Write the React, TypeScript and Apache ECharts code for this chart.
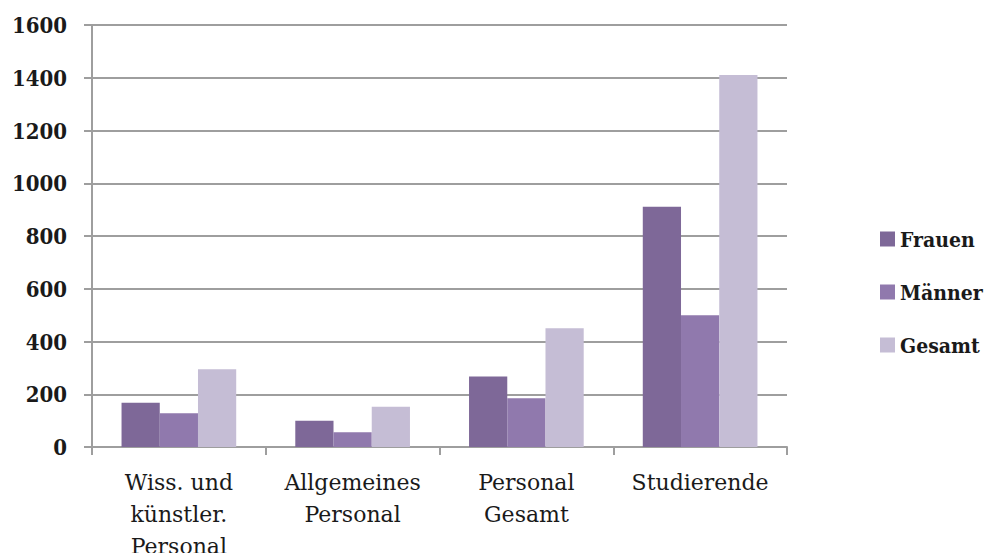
import React, { useEffect, useRef } from "react";
import * as echarts from "echarts";

const categories = ["Wiss. und\nkünstler.\nPersonal", "Allgemeines\nPersonal", "Personal\nGesamt", "Studierende"];
const frauen = [168, 100, 267, 911];
const maenner = [128, 56, 185, 500];
const gesamt = [295, 153, 450, 1410];
const seriesNames = ["Frauen", "Männer", "Gesamt"];
const colors = ["#7e6898", "#9079ad", "#c5bdd5"];

const FONT = "'DejaVu Serif Condensed', 'DejaVu Serif', serif";
const FONT_CAT = "'DejaVu Serif', serif";

export default function App() {
  const ref = useRef<HTMLDivElement>(null);
  useEffect(() => {
    if (!ref.current) return;
    const chart = echarts.init(ref.current, null, { renderer: "svg" });
    const data = [frauen, maenner, gesamt];
    chart.setOption({
      animation: false,
      backgroundColor: "#ffffff",
      grid: { left: 92, right: 202, top: 25, bottom: 106, containLabel: false, outerBoundsMode: "none" },
      legend: {
        orient: "vertical",
        left: 880,
        top: 228,
        padding: 0,
        icon: "rect",
        itemWidth: 15,
        itemHeight: 15,
        itemGap: 31,
        data: seriesNames,
        textStyle: { fontFamily: FONT, fontSize: 21, fontWeight: "bold", color: "#1a1a1a", lineHeight: 22 },
      },
      xAxis: {
        type: "category",
        data: categories,
        axisLine: { show: true, lineStyle: { color: "#9e9e9e", width: 2 } },
        axisTick: { show: true, length: 8, alignWithLabel: false, lineStyle: { color: "#9e9e9e", width: 2 } },
        axisLabel: {
          interval: 0,
          margin: 19,
          fontFamily: FONT_CAT,
          fontSize: 22,
          color: "#1a1a1a",
          lineHeight: 32,
        },
        splitLine: { show: false },
      },
      yAxis: {
        type: "value",
        min: 0,
        max: 1600,
        interval: 200,
        axisLine: { show: true, lineStyle: { color: "#9e9e9e", width: 2 } },
        axisTick: { show: true, length: 8, lineStyle: { color: "#9e9e9e", width: 2 } },
        axisLabel: {
          margin: 25,
          fontFamily: FONT,
          fontSize: 22,
          fontWeight: "bold",
          color: "#1a1a1a",
          formatter: (v: number) => String(v),
        },
        splitLine: { show: true, lineStyle: { color: "#9e9e9e", width: 2 } },
      },
      series: seriesNames.map((name, i) => ({
        name,
        type: "bar",
        data: data[i],
        barGap: "0%",
        barCategoryGap: "34%",
        itemStyle: { color: colors[i] },
      })),
    });
    return () => chart.dispose();
  }, []);
  return <div ref={ref} style={{ position: "fixed", left: 0, top: 0, width: 989, height: 553 }} />;
}
